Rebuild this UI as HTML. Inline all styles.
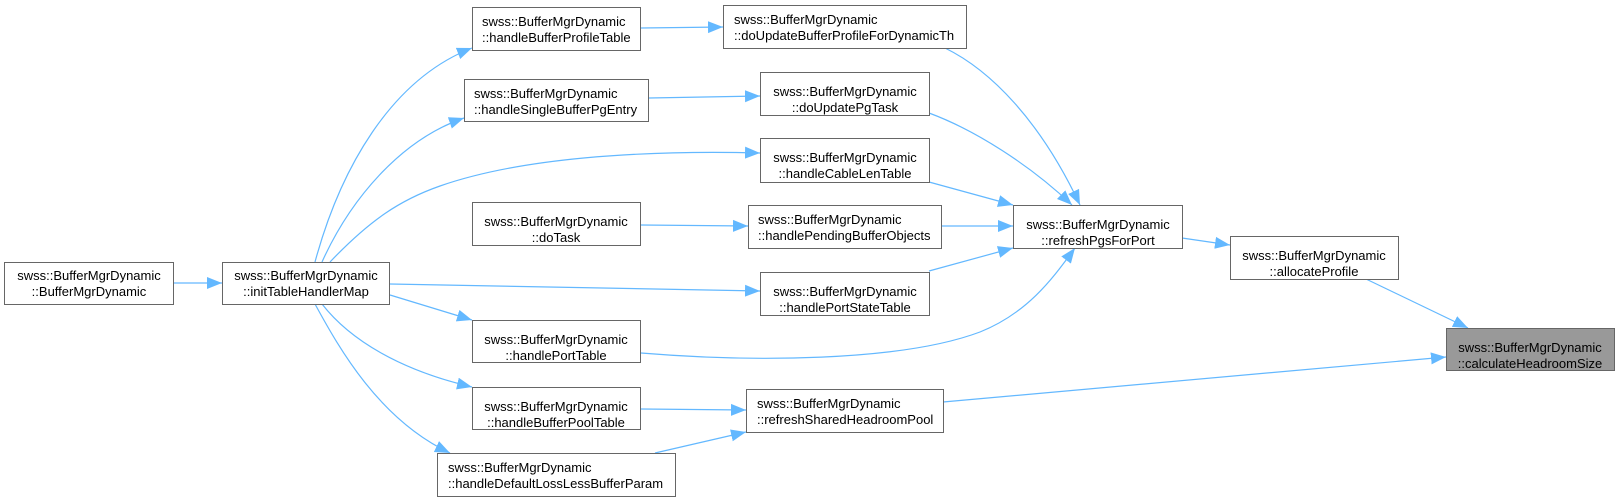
<!DOCTYPE html>
<html><head><meta charset="utf-8"><style>
html,body{margin:0;padding:0;background:#fff;}
svg{display:block;}
text{font-family:"Liberation Sans",Arial,sans-serif;font-size:13px;fill:#000;}
</style></head><body>
<svg width="1620" height="501" viewBox="0 0 1620 501" xmlns="http://www.w3.org/2000/svg">
<defs>
<marker id="a" markerUnits="userSpaceOnUse" markerWidth="16" markerHeight="14" refX="15" refY="7" orient="auto">
<path d="M0,1 L15,7 L0,13 z" fill="#63b8ff"/>
</marker>
</defs>
<g fill="none" stroke="#63b8ff" stroke-width="1.2" marker-end="url(#a)">
<path d="M174,283 L222,283"/>
<path d="M315,262 C340,170 390,80 472,48"/>
<path d="M322,262 C350,200 400,140 464,118"/>
<path d="M330,262 C370,220 400,200 440,186 C520,158 640,150 760,153"/>
<path d="M390,284 L760,291"/>
<path d="M390,295 L472,320"/>
<path d="M322,304 C350,340 400,370 472,387"/>
<path d="M315,304 C340,350 380,420 450,453"/>
<path d="M641,28 L723,27"/>
<path d="M649,98 L760,96"/>
<path d="M641,225 L748,226"/>
<path d="M641,409 L746,410"/>
<path d="M655,453 L746,432"/>
<path d="M945,48 C990,70 1040,120 1080,205"/>
<path d="M929,113 C975,130 1030,165 1072,205"/>
<path d="M929,182 L1013,205"/>
<path d="M941,226 L1013,226"/>
<path d="M929,271 L1013,248"/>
<path d="M641,353 C750,362 900,362 980,332 C1030,312 1055,275 1075,248"/>
<path d="M1182,238 L1230,245"/>
<path d="M1366,279 L1468,328"/>
<path d="M943,402 L1446,357"/>
</g>
<g stroke="#666" stroke-width="1" fill="#fff">
<rect x="4.5" y="262.5" width="169" height="42"/>
<rect x="222.5" y="262.5" width="167" height="42"/>
<rect x="472.5" y="7.5" width="168" height="43"/>
<rect x="464.5" y="79.5" width="184" height="42"/>
<rect x="472.5" y="202.5" width="168" height="43"/>
<rect x="472.5" y="320.5" width="168" height="42"/>
<rect x="472.5" y="387.5" width="168" height="42"/>
<rect x="437.5" y="453.5" width="238" height="43"/>
<rect x="723.5" y="5.5" width="243" height="43"/>
<rect x="760.5" y="72.5" width="169" height="43"/>
<rect x="760.5" y="138.5" width="169" height="44"/>
<rect x="748.5" y="205.5" width="193" height="43"/>
<rect x="760.5" y="272.5" width="169" height="43"/>
<rect x="746.5" y="389.5" width="197" height="43"/>
<rect x="1013.5" y="205.5" width="169" height="43"/>
<rect x="1230.5" y="236.5" width="168" height="43"/>
<rect x="1446.5" y="328.5" width="168" height="42" fill="#999"/>
</g>
<g text-anchor="middle">
<text x="89" y="280">swss::BufferMgrDynamic</text><text x="89" y="296">::BufferMgrDynamic</text>
<text x="306" y="280">swss::BufferMgrDynamic</text><text x="306" y="296">::initTableHandlerMap</text>
<text x="556" y="226">swss::BufferMgrDynamic</text><text x="556" y="242">::doTask</text>
<text x="556" y="344">swss::BufferMgrDynamic</text><text x="556" y="360">::handlePortTable</text>
<text x="556" y="411">swss::BufferMgrDynamic</text><text x="556" y="427">::handleBufferPoolTable</text>
<text x="845" y="96">swss::BufferMgrDynamic</text><text x="845" y="112">::doUpdatePgTask</text>
<text x="845" y="162">swss::BufferMgrDynamic</text><text x="845" y="178">::handleCableLenTable</text>
<text x="845" y="296">swss::BufferMgrDynamic</text><text x="845" y="312">::handlePortStateTable</text>
<text x="1098" y="229">swss::BufferMgrDynamic</text><text x="1098" y="245">::refreshPgsForPort</text>
<text x="1314" y="260">swss::BufferMgrDynamic</text><text x="1314" y="276">::allocateProfile</text>
<text x="1530" y="352">swss::BufferMgrDynamic</text><text x="1530" y="368">::calculateHeadroomSize</text>
</g>
<g>
<text x="482" y="26">swss::BufferMgrDynamic</text><text x="482" y="42">::handleBufferProfileTable</text>
<text x="474" y="98">swss::BufferMgrDynamic</text><text x="474" y="114">::handleSingleBufferPgEntry</text>
<text x="448" y="472">swss::BufferMgrDynamic</text><text x="448" y="488">::handleDefaultLossLessBufferParam</text>
<text x="734" y="24">swss::BufferMgrDynamic</text><text x="734" y="40">::doUpdateBufferProfileForDynamicTh</text>
<text x="758" y="224">swss::BufferMgrDynamic</text><text x="758" y="240">::handlePendingBufferObjects</text>
<text x="757" y="408">swss::BufferMgrDynamic</text><text x="757" y="424">::refreshSharedHeadroomPool</text>
</g>
</svg>
</body></html>
